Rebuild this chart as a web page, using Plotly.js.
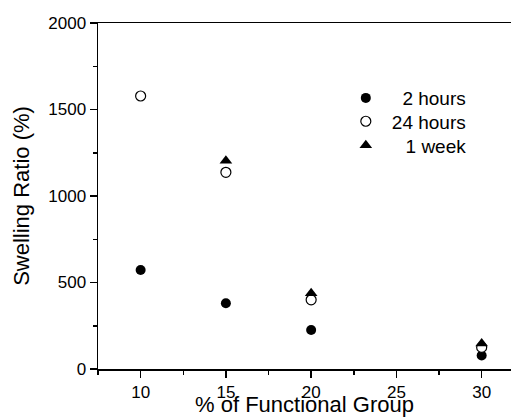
<!DOCTYPE html>
<html>
<head>
<meta charset="utf-8">
<script src="https://cdn.plot.ly/plotly-3.0.1.min.js"></script>
<style>html,body{margin:0;padding:0;background:#fff;}#chart{width:511px;height:417px;}</style>
</head>
<body>
<div id="chart"></div>
<script>
// Data
const funcGroup2h = [10, 15, 20, 30];
const swelling2h = [572, 380, 225, 78];
const funcGroup24h = [10, 15, 20, 30];
const swelling24h = [1578, 1137, 400, 125];
const funcGroup1w = [15, 20, 30];
const swelling1w = [1204, 438, 148];
const seriesNames = ['\u20072 hours', '24 hours', '\u2007\u20061 week'];
const xTicks = [10, 15, 20, 25, 30];
const yTicks = [0, 500, 1000, 1500, 2000];

const font = 'Liberation Sans, Arial, sans-serif';

const traces = [
  {x: funcGroup2h, y: swelling2h, name: seriesNames[0], type: 'scatter', mode: 'markers', legend: 'legend',
   marker: {symbol: 'circle', size: 10, color: '#000', line: {width: 0}}},
  {x: funcGroup24h, y: swelling24h, name: seriesNames[1], type: 'scatter', mode: 'markers', legend: 'legend2',
   marker: {symbol: 'circle', size: 10, color: '#fff', line: {width: 1.2, color: '#000'}}},
  {x: funcGroup1w, y: swelling1w, name: seriesNames[2], type: 'scatter', mode: 'markers', legend: 'legend3',
   marker: {symbol: 'triangle-up', size: 11, color: '#000', line: {width: 0}}}
];

function legendAt(y) {
  return {x: 0.5855, y: y, xanchor: 'left', yanchor: 'top', bgcolor: 'rgba(0,0,0,0)',
          font: {family: font, size: 19, color: '#000'}, itemwidth: 42};
}

const layout = {
  width: 511, height: 417,
  margin: {l: 98, r: 0, t: 23, b: 48, pad: 0},
  paper_bgcolor: '#fff', plot_bgcolor: '#fff',
  font: {family: font, color: '#000', size: 16},
  showlegend: true,
  legend: legendAt(0.838),
  legend2: legendAt(0.7705),
  legend3: legendAt(0.701),
  xaxis: {
    range: [7.5, 31.72], tickvals: xTicks, ticktext: xTicks.map(String),
    ticks: 'outside', ticklen: 7, tickwidth: 1.5, tickcolor: '#000',
    showline: true, linewidth: 1.5, linecolor: '#000', mirror: true,
    showgrid: false, zeroline: false,
    tickfont: {family: font, size: 17, color: '#000'},
    minor: {dtick: 2.5, tick0: 7.5, ticks: 'outside', ticklen: 4, tickwidth: 1.5, tickcolor: '#000', showgrid: false},
    title: {text: '% of Functional Group', font: {family: font, size: 22, color: '#000'}, standoff: 6}
  },
  yaxis: {
    range: [0, 2000], tickvals: yTicks, ticktext: yTicks.map(String),
    ticks: 'outside', ticklen: 7, tickwidth: 1.5, tickcolor: '#000',
    showline: true, linewidth: 1.5, linecolor: '#000', mirror: false,
    showgrid: false, zeroline: false,
    tickfont: {family: font, size: 17, color: '#000'},
    minor: {dtick: 250, tick0: 0, ticks: 'outside', ticklen: 4, tickwidth: 1.5, tickcolor: '#000', showgrid: false},
    title: {text: 'Swelling Ratio (%)', font: {family: font, size: 22, color: '#000'}, standoff: 12}
  }
};

Plotly.newPlot('chart', traces, layout, {displayModeBar: false, staticPlot: true});
</script>
</body>
</html>
